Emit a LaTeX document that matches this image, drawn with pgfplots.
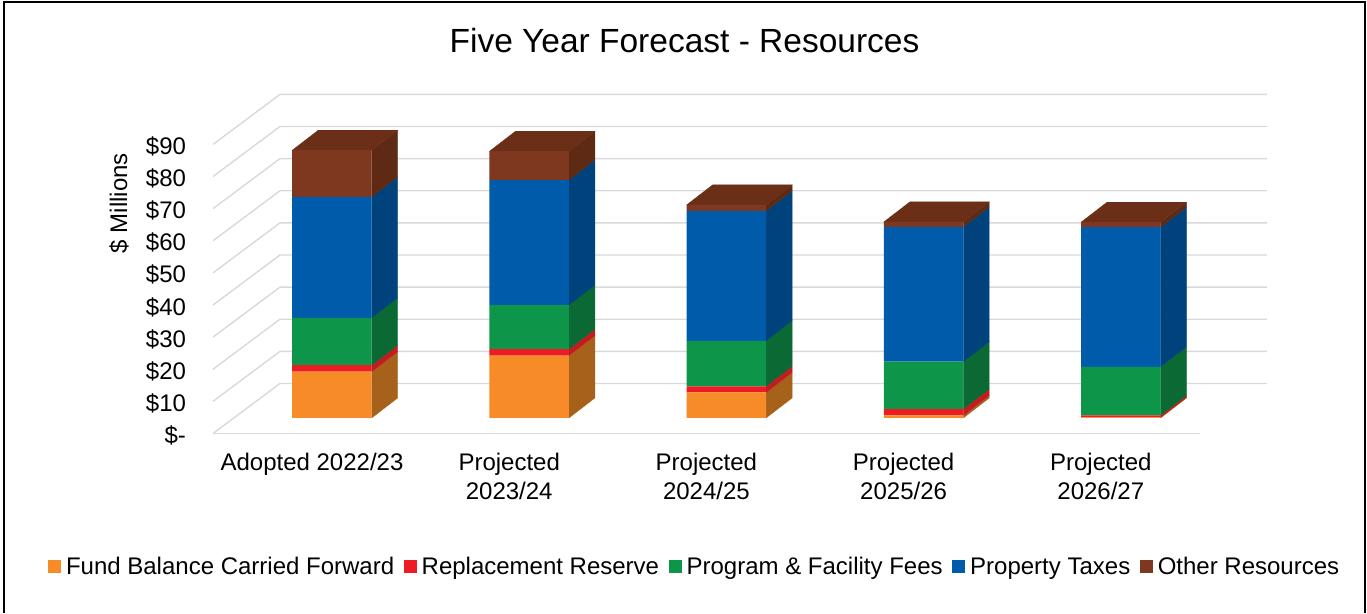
\documentclass[border=0pt]{standalone}
\usepackage{fontspec}
\setmainfont{Liberation Sans}
\usepackage{pgfplots}
\usepackage{pgfplotstable}
\pgfplotsset{compat=1.18}
\definecolor{cOrange}{HTML}{F68B28}
\definecolor{cRed}{HTML}{ED1C24}
\definecolor{cGreen}{HTML}{0D9549}
\definecolor{cBlue}{HTML}{005CAB}
\definecolor{cBrown}{HTML}{7F3820}
\definecolor{sOrange}{HTML}{A6611B}
\definecolor{sRed}{HTML}{C41A20}
\definecolor{sGreen}{HTML}{0B6A33}
\definecolor{sBlue}{HTML}{00427C}
\definecolor{sBrown}{HTML}{5E2A14}
\definecolor{tBrown}{HTML}{6B2F17}
\definecolor{gridc}{HTML}{D9D9D9}
\newcommand{\lab}{\fontsize{24}{29}\selectfont}
\pgfplotstableread{
x base orange red green blue brown
0 4.83 14.44 1.99 14.74 37.66 14.54
1 4.83 19.43 1.99 13.70 38.95 8.97
2 4.83 7.97 1.89 14.15 40.45 1.89
3 4.83 0.80 1.99 14.74 41.94 1.59
4 4.83 0.20 0.60 15.14 43.44 1.59
}\resources
\pgfplotsset{common/.style={
  at={(213pt,179.5pt)}, anchor=south west,
  scale only axis, width=1054pt, height=339.2pt,
  xmin=-0.6034, xmax=4.7414, ymin=0, ymax=105.6, clip=false}}
% half bar width .2016, depth dx .1318, depth dy 6.23
\newcommand{\sideface}[4]{%
  \pgfmathsetmacro{\xa}{#1+0.2016}\pgfmathsetmacro{\xb}{#1+0.3334}%
  \pgfmathsetmacro{\yb}{#2+6.23}\pgfmathsetmacro{\yc}{#3+6.23}%
  \edef\cmd{\noexpand\addplot[forget plot,fill=#4,draw=#4,line width=0.2pt] coordinates {(\xa,#2)(\xb,\yb)(\xb,\yc)(\xa,#3)(\xa,#2)};}\cmd}
\newcommand{\topface}[3]{%
  \pgfmathsetmacro{\xa}{#1-0.2016}\pgfmathsetmacro{\xb}{#1-0.0698}%
  \pgfmathsetmacro{\xc}{#1+0.3334}\pgfmathsetmacro{\xd}{#1+0.2016}%
  \pgfmathsetmacro{\yb}{#2+6.23}%
  \edef\cmd{\noexpand\addplot[forget plot,fill=#3,draw=#3,line width=0.2pt] coordinates {(\xa,#2)(\xb,\yb)(\xc,\yb)(\xd,#2)(\xa,#2)};}\cmd}
\begin{document}
\begin{tikzpicture}[x=1pt,y=1pt]
\useasboundingbox (0,0) rectangle (1367,613);
\draw[black,line width=2pt] (4,0) -- (4,611) -- (1365,611) -- (1365,0);
% walls, floor and the sides of the bars
\begin{axis}[common, hide axis]
\pgfplotsinvokeforeach{0,10,20,30,40,50,60,70,80,90}{
  \draw[gridc,line width=1.4pt] (axis cs:-0.6034,#1) -- (axis cs:-0.2637,{#1+15.57}) -- (axis cs:4.7414,{#1+15.57});
}
\draw[gridc,line width=1.4pt] (axis cs:-0.6034,0) -- (axis cs:4.4016,0);
\pgfplotsforeachungrouped \r in {0,...,4}{
  \pgfplotstablegetelem{\r}{base}\of\resources \pgfmathsetmacro{\ca}{\pgfplotsretval}
  \pgfplotstablegetelem{\r}{orange}\of\resources \pgfmathsetmacro{\cb}{\ca+\pgfplotsretval}
  \pgfplotstablegetelem{\r}{red}\of\resources \pgfmathsetmacro{\cc}{\cb+\pgfplotsretval}
  \pgfplotstablegetelem{\r}{green}\of\resources \pgfmathsetmacro{\cd}{\cc+\pgfplotsretval}
  \pgfplotstablegetelem{\r}{blue}\of\resources \pgfmathsetmacro{\ce}{\cd+\pgfplotsretval}
  \pgfplotstablegetelem{\r}{brown}\of\resources \pgfmathsetmacro{\cf}{\ce+\pgfplotsretval}
  \sideface{\r}{\ca}{\cb}{sOrange}
  \sideface{\r}{\cb}{\cc}{sRed}
  \sideface{\r}{\cc}{\cd}{sGreen}
  \sideface{\r}{\cd}{\ce}{sBlue}
  \sideface{\r}{\ce}{\cf}{sBrown}
  \topface{\r}{\cf}{tBrown}
}
\end{axis}
% front faces, ticks, labels, legend
\begin{axis}[common,
  ybar stacked, bar width=79.5pt,
  axis line style={draw=none}, major tick length=0pt,
  xtick={0,1,2,3,4},
  xticklabels={Adopted 2022/23,{Projected\\2023/24},{Projected\\2024/25},{Projected\\2025/26},{Projected\\2026/27}},
  xticklabel style={font=\lab,align=center,anchor=north,xshift=-20pt,yshift=-16pt},
  ytick={0,10,20,30,40,50,60,70,80,90},
  yticklabels={\$-,\$10,\$20,\$30,\$40,\$50,\$60,\$70,\$80,\$90},
  yticklabel style={font=\lab,anchor=east,xshift=-23.5pt,yshift=-2pt},
  ylabel={\$ Millions},
  every axis y label/.style={at={(axis description cs:-0.0892,0.6795)},rotate=90,anchor=center,font=\lab},
  legend style={at={(axis description cs:-0.1565,-0.392)},anchor=west,draw=none,fill=none,
    legend columns=5,font=\lab,inner sep=0pt,outer sep=0pt,
    /tikz/every even column/.append style={column sep=9.5pt},
    /tikz/every odd column/.append style={column sep=5pt},
    nodes={inner sep=0pt,text height=20pt,text depth=4pt}},
  legend image code/.code={\fill[#1] (0pt,-6.5pt) rectangle (13pt,6.5pt);},
]
\addplot[forget plot,draw=none,fill=none] table[x=x,y=base]{\resources};
\addplot[draw=none,fill=cOrange] table[x=x,y=orange]{\resources};
\addplot[draw=none,fill=cRed] table[x=x,y=red]{\resources};
\addplot[draw=none,fill=cGreen] table[x=x,y=green]{\resources};
\addplot[draw=none,fill=cBlue] table[x=x,y=blue]{\resources};
\addplot[draw=none,fill=cBrown] table[x=x,y=brown]{\resources};
\legend{Fund Balance Carried Forward,Replacement Reserve,Program \& Facility Fees,Property Taxes,Other Resources}
\end{axis}
\node[font=\fontsize{33.5}{38}\selectfont] at (684.5,572.5) {Five Year Forecast - Resources};
\end{tikzpicture}
\end{document}
